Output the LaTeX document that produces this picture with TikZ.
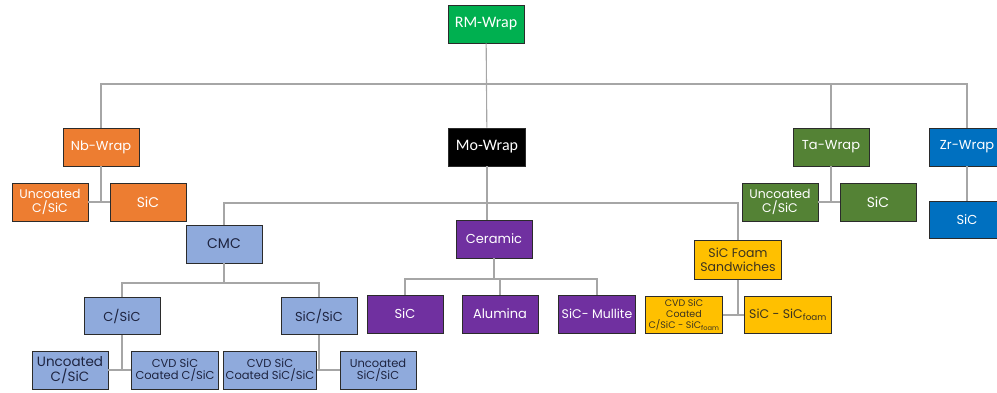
\documentclass[tikz,border=0pt]{standalone}
\usepackage{fontspec}
\setmainfont{Poppins}
\newfontfamily\calibrifont{Carlito}
\usetikzlibrary{positioning}
\usepackage{xcolor}
\definecolor{rmgreen}{HTML}{00B050}
\definecolor{nborange}{HTML}{ED7D31}
\definecolor{tagreen}{HTML}{548235}
\definecolor{zrblue}{HTML}{0070C0}
\definecolor{cmcblue}{HTML}{8FAADC}
\definecolor{cerpurple}{HTML}{7030A0}
\definecolor{foamyellow}{HTML}{FFC000}
\definecolor{boxline}{HTML}{2B2B2B}
\definecolor{linkgray}{HTML}{A6A6A6}
\definecolor{darktext}{HTML}{1E2440}
\definecolor{foamtext}{HTML}{3B3320}

\begin{document}
\begin{tikzpicture}[x=1pt, y=-1pt,
  box/.style={draw=boxline, line width=0.9pt, minimum width=76pt, minimum height=38pt,
              inner sep=1pt, align=center, text=white, font=\fontsize{13}{14}\selectfont},
  cmcbox/.style={box, fill=cmcblue, text=darktext},
  foambox/.style={box, fill=foamyellow, text=foamtext},
  cerbox/.style={box, fill=cerpurple},
  link/.style={draw=linkgray, line width=1.1pt}]
  \useasboundingbox (0,0) rectangle (997,392);
  % Top node
  \node(rm)[box, fill=rmgreen, font=\calibrifont\fontsize{16}{17}\selectfont] at (486,24) {RM-Wrap};
  % Wrap nodes
  \node(nb)[box, fill=nborange] at (101,147) {Nb-Wrap};
  \node(mo)[box, fill=black, minimum width=77pt, font=\calibrifont\fontsize{16}{17}\selectfont] at (487,147) {Mo-Wrap};
  \node(ta)[box, fill=tagreen] at (831,147) {Ta-Wrap};
  \node(zr)[box, fill=zrblue] at (967,147) {Zr-Wrap};
  \coordinate (bar) at (486,84);
  % Nb and Ta leaves
  \node(nbu)[box, fill=nborange, font=\fontsize{12.5}{13.5}\selectfont] at (50,202) {Uncoated\\C/SiC};
  \node(nbs)[box, fill=nborange, font=\fontsize{14}{15}\selectfont] at (148,202) {SiC};
  \node(tau)[box, fill=tagreen, font=\fontsize{12.5}{13.5}\selectfont] at (780,202) {Uncoated\\C/SiC};
  \node(tas)[box, fill=tagreen, font=\fontsize{14}{15}\selectfont] at (878,202) {SiC};
  \node(zrs)[box, fill=zrblue, minimum height=37pt] at (967,220) {SiC};
  % Mo branches
  \coordinate (bar2) at (487,203);
  \node(cmc)[cmcbox, font=\fontsize{14}{15}\selectfont] at (224,244) {CMC};
  \node(cer)[cerbox] at (494,239) {Ceramic};
  \node(foam)[foambox, minimum width=87pt, minimum height=39pt, font=\fontsize{12.5}{14.5}\selectfont] at (738,260) {SiC Foam\\Sandwiches};
  % Ceramic leaves
  \coordinate (bar3) at (494,279);
  \node(cers)[cerbox] at (405,314) {SiC};
  \node(cera)[cerbox] at (500,314) {Alumina};
  \node(cerm)[cerbox, minimum width=77pt, font=\fontsize{12.5}{13.5}\selectfont] at (597,314) {SiC- Mullite};
  % Foam leaves
  \node(fcvd)[foambox, minimum width=77pt, minimum height=37pt, font=\fontsize{9.5}{10.8}\selectfont] at (684,315) {CVD SiC\\Coated\\C/SiC - SiC\textsubscript{foam}};
  \node(fsic)[foambox, minimum width=87pt, minimum height=37pt, font=\fontsize{12.5}{13.5}\selectfont] at (788,315) {SiC - SiC\textsubscript{foam}};
  % CMC leaves
  \coordinate (bar4) at (224,283);
  \node(csic)[cmcbox, minimum height=37pt] at (122,316) {C/SiC};
  \node(ssic)[cmcbox, minimum height=37pt] at (319,316) {SiC/SiC};
  \node(cu)[cmcbox, font=\fontsize{13.5}{14.5}\selectfont] at (70,370) {Uncoated\\C/SiC};
  \node(ccvd)[cmcbox, minimum width=87pt, font=\fontsize{11.5}{12.5}\selectfont] at (175,370) {CVD SiC\\Coated C/SiC};
  \node(scvd)[cmcbox, minimum width=93pt, font=\fontsize{11.5}{12.5}\selectfont] at (270,370) {CVD SiC\\Coated SiC/SiC};
  \node(su)[cmcbox, font=\fontsize{11.5}{12.5}\selectfont] at (378,370) {Uncoated\\SiC/SiC};
  % Connectors
  \draw[link] (rm) -- (mo);
  \draw[link] (nb.north) -- (nb.north |- bar) -- (zr.north |- bar) -- (zr.north);
  \draw[link] (ta.north |- bar) -- (ta.north);
  \draw[link] (nb.south) -- (nb.south |- nbu.east);
  \draw[link] (nbu.east) -- (nbs.west);
  \draw[link] (ta.south) -- (ta.south |- tau.east);
  \draw[link] (tau.east) -- (tas.west);
  \draw[link] (zr) -- (zrs);
  \draw[link] (mo.south) -- (mo.south |- cer.north);
  \draw[link] (cmc.north) -- (cmc.north |- bar2) -- (foam.north |- bar2) -- (foam.north);
  \draw[link] (cer.south) -- (cer.south |- bar3);
  \draw[link] (cers.north) -- (cers.north |- bar3) -- (cerm.north |- bar3) -- (cerm.north);
  \draw[link] (cera.north |- bar3) -- (cera.north);
  \draw[link] (foam.south) -- (foam.south |- fcvd.east);
  \draw[link] (fcvd.east) -- (fsic.west);
  \draw[link] (cmc.south) -- (cmc.south |- bar4);
  \draw[link] (csic.north) -- (csic.north |- bar4) -- (ssic.north |- bar4) -- (ssic.north);
  \draw[link] (csic.south) -- (csic.south |- cu.east);
  \draw[link] (cu.east) -- (ccvd.west);
  \draw[link] (ssic.south) -- (ssic.south |- su.west);
  \draw[link] (scvd.east) -- (su.west);
\end{tikzpicture}
\end{document}
